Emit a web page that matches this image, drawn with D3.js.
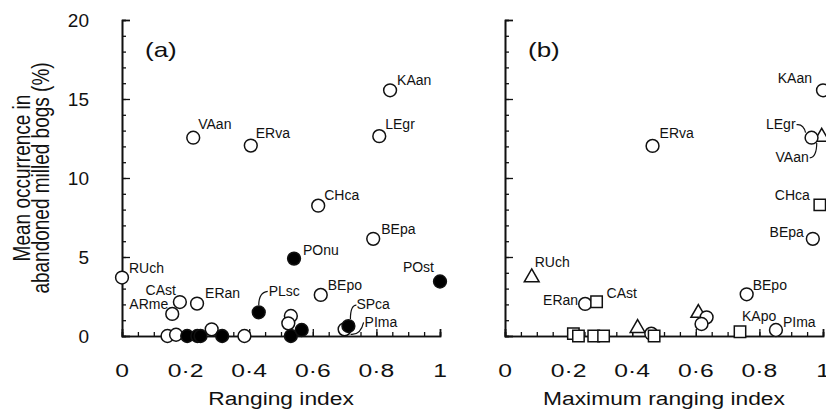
<!DOCTYPE html>
<html>
<head>
<meta charset="utf-8">
<script src="https://cdn.jsdelivr.net/npm/d3@7"></script>
<style>
    body { margin: 0; background: #fff; }
    svg text { font-family: "Liberation Sans", Arial, sans-serif; fill: #111; }
</style>
</head>
<body>
<div id="graphContainer"></div>
<script>
"use strict";

// panel (a) - ranging index
const rangingIndex = [0.0, 0.158, 0.182, 0.236, 0.224, 0.405, 0.617, 0.809, 0.843, 0.79, 0.625, 0.70,
    0.143, 0.17, 0.282, 0.385, 0.531, 0.523,
    0.541, 0.43, 0.712, 1.0, 0.205, 0.237, 0.247, 0.315, 0.531, 0.565];
const occurrenceA = [3.7, 1.4, 2.15, 2.05, 12.55, 12.05, 8.25, 12.65, 15.55, 6.15, 2.6, 0.42,
    0, 0.08, 0.42, 0, 1.27, 0.8,
    4.9, 1.5, 0.63, 3.45, 0, 0, 0, 0, 0, 0.38];
const markerA = ["open", "open", "open", "open", "open", "open", "open", "open", "open", "open", "open", "open",
    "open", "open", "open", "open", "open", "open",
    "solid", "solid", "solid", "solid", "solid", "solid", "solid", "solid", "solid", "solid"];
const speciesA = ["RUch", "ARme", "CAst", "ERan", "VAan", "ERva", "CHca", "LEgr", "KAan", "BEpa", "BEpo", "PIma",
    "", "", "", "", "", "",
    "POnu", "PLsc", "SPca", "POst", "", "", "", "", "", ""];

// panel (b) - maximum ranging index
const maxRangingIndex = [0.084, 0.996, 0.608, 0.417,
    1.0, 0.964, 0.968, 0.464, 0.252, 0.76, 0.852, 0.634, 0.618, 0.46,
    0.99, 0.288, 0.739, 0.215, 0.231, 0.279, 0.31, 0.469];
const occurrenceB = [3.7, 12.6, 1.45, 0.5,
    15.55, 12.55, 6.15, 12.03, 2.03, 2.64, 0.38, 1.18, 0.76, 0.15,
    8.3, 2.17, 0.27, 0.15, 0, 0, 0, 0];
const markerB = ["triangle", "triangle", "triangle", "triangle",
    "circle", "circle", "circle", "circle", "circle", "circle", "circle", "circle", "circle", "circle",
    "square", "square", "square", "square", "square", "square", "square", "square"];
const speciesB = ["RUch", "VAan", "", "",
    "KAan", "LEgr", "BEpa", "ERva", "ERan", "BEpo", "PIma", "", "", "",
    "CHca", "CAst", "KApo", "", "", "", "", ""];

const xTicks = [0, 0.2, 0.4, 0.6, 0.8, 1];
const xTickLabels = ["0", "0·2", "0·4", "0·6", "0·8", "1"];
const yTicks = [0, 5, 10, 15, 20];

(function () {
    const width = 826, height = 417
    const margin = { top: 20, bottom: 336 }

    // where each species name sits relative to its marker
    const labelPos = {
        a: {
            KAan: { dx: 7, dy: -5 }, VAan: { dx: 5, dy: -9 }, ERva: { dx: 5, dy: -8 },
            LEgr: { dx: 6, dy: -7 }, CHca: { dx: 6, dy: -6 }, BEpa: { dx: 8, dy: -5 },
            RUch: { dx: 7, dy: -5 }, CAst: { dx: -4, dy: -7, anchor: "end" },
            ARme: { dx: -4, dy: -5, anchor: "end" }, ERan: { dx: 8, dy: -6 },
            PLsc: { dx: 10, dy: -16, leader: "M0,-7 Q0,-20 9,-21" },
            POnu: { dx: 9, dy: -4 }, BEpo: { dx: 7, dy: -5 },
            POst: { dx: -6, dy: -9, anchor: "end" },
            SPca: { dx: 8, dy: -17, leader: "M2,-7 Q2,-21 8,-21" },
            PIma: { dx: 20, dy: -2, leader: "M6,5 Q16,6 19,-7" }
        },
        b: {
            RUch: { dx: 3, dy: -11 }, ERan: { dx: -7, dy: 1, anchor: "end" },
            CAst: { dx: 10, dy: -4 }, BEpo: { dx: 6, dy: -4 }, KApo: { dx: 2, dy: -11 },
            PIma: { dx: 7, dy: -3 }, BEpa: { dx: -9, dy: -2, anchor: "end" },
            ERva: { dx: 7, dy: -8 }, KAan: { dx: -11, dy: -7, anchor: "end" },
            LEgr: { dx: -16, dy: -9, anchor: "end", leader: "M-15,-13 Q-8,-14 -6,-5" },
            VAan: { dx: -13, dy: 25, anchor: "end", leader: "M-12,21 Q-5,20 -5,6" },
            CHca: { dx: -10, dy: -5, anchor: "end" }
        }
    }

    const svg = d3.select("#graphContainer").append("svg")
        .attr("width", width)
        .attr("height", height)

    const scaleY = d3.scaleLinear().domain([0, 20]).range([margin.bottom, margin.top])

    function drawPanel(x0, x1, letter, title, showY) {
        const scaleX = d3.scaleLinear().domain([0, 1]).range([x0, x1])
        const g = svg.append("g")

        // inward ticks, minor every 0.05 / 1
        g.append("g").attr("transform", "translate(0," + margin.bottom + ")")
            .call(d3.axisTop(scaleX).ticks(20).tickSize(4).tickFormat(""))
        g.append("g").attr("transform", "translate(0," + margin.bottom + ")")
            .call(d3.axisTop(scaleX).tickValues(xTicks).tickSize(7).tickFormat(""))
        g.append("g").attr("transform", "translate(" + x0 + ",0)")
            .call(d3.axisRight(scaleY).ticks(20).tickSize(4).tickFormat(""))
        g.append("g").attr("transform", "translate(" + x0 + ",0)")
            .call(d3.axisRight(scaleY).tickValues(yTicks).tickSize(8).tickFormat(""))
        g.selectAll(".domain").attr("stroke", "#111").attr("stroke-width", 1.6)
        g.selectAll(".tick line").attr("stroke", "#111").attr("stroke-width", 1.3)

        g.selectAll(".xlab").data(xTicks).enter().append("text")
            .attr("transform", (d) => "translate(" + scaleX(d) + ",377) scale(1.3,1)")
            .attr("text-anchor", "middle")
            .style("font-size", "19px")
            .text((d, i) => xTickLabels[i])

        if (showY) {
            g.selectAll(".ylab").data(yTicks).enter().append("text")
                .attr("x", 89)
                .attr("y", (d) => scaleY(d) + 7)
                .attr("text-anchor", "end")
                .style("font-size", "19px")
                .text((d) => d)
        }

        g.append("text")
            .attr("transform", "translate(" + ((x0 + x1) / 2) + ",405) scale(1.2,1)")
            .attr("text-anchor", "middle")
            .style("font-size", "19px")
            .text(title)

        g.append("text")
            .attr("transform", "translate(" + (x0 + 23) + ",57) scale(1.3,1)")
            .style("font-size", "20px")
            .text("(" + letter + ")")
        return { g: g, scaleX: scaleX }
    }

    function addLabel(g, px, py, name, pos) {
        if (!name) return
        const p = pos[name]
        if (p.leader) {
            g.append("path")
                .attr("transform", "translate(" + px + "," + py + ")")
                .attr("d", p.leader)
                .attr("fill", "none")
                .attr("stroke", "#111")
                .attr("stroke-width", 1.2)
        }
        g.append("text")
            .attr("x", px + p.dx)
            .attr("y", py + p.dy)
            .attr("text-anchor", p.anchor || "start")
            .style("font-size", "14px")
            .text(name)
    }

    // panel a
    const pa = drawPanel(122, 440, "a", "Ranging index", true)
    const idxA = d3.range(rangingIndex.length)
    pa.g.selectAll(".pt").data(idxA).enter().append("circle")
        .attr("cx", (i) => pa.scaleX(rangingIndex[i]))
        .attr("cy", (i) => scaleY(occurrenceA[i]))
        .attr("r", 6.4)
        .attr("fill", (i) => markerA[i] == "solid" ? "#000" : "#fff")
        .attr("stroke", "#111")
        .attr("stroke-width", 1.5)
    idxA.forEach((i) => addLabel(pa.g, pa.scaleX(rangingIndex[i]), scaleY(occurrenceA[i]), speciesA[i], labelPos.a))

    // panel b
    const pb = drawPanel(505, 823, "b", "Maximum ranging index", false)
    const idxB = d3.range(maxRangingIndex.length)
    const shapes = {
        triangle: d3.symbol().type(d3.symbolTriangle).size(95),
        circle: d3.symbol().type(d3.symbolCircle).size(129),
        square: d3.symbol().type(d3.symbolSquare).size(130)
    }
    pb.g.selectAll(".pt").data(idxB).enter().append("path")
        .attr("transform", (i) => "translate(" + pb.scaleX(maxRangingIndex[i]) + "," + scaleY(occurrenceB[i]) + ")")
        .attr("d", (i) => shapes[markerB[i]]())
        .attr("fill", "#fff")
        .attr("stroke", "#111")
        .attr("stroke-width", 1.5)
    idxB.forEach((i) => addLabel(pb.g, pb.scaleX(maxRangingIndex[i]), scaleY(occurrenceB[i]), speciesB[i], labelPos.b))

    // y axis title, two lines
    const yTitle = ["Mean occurrence in", "abandoned milled bogs (%)"]
    svg.selectAll(".ytitle").data(yTitle).enter().append("text")
        .attr("transform", (d, i) => "translate(" + (30 + i * 19) + ",178) scale(1.25,1) rotate(-90)")
        .attr("text-anchor", "middle")
        .style("font-size", "19px")
        .text((d) => d)
})()
</script>
</body>
</html>
